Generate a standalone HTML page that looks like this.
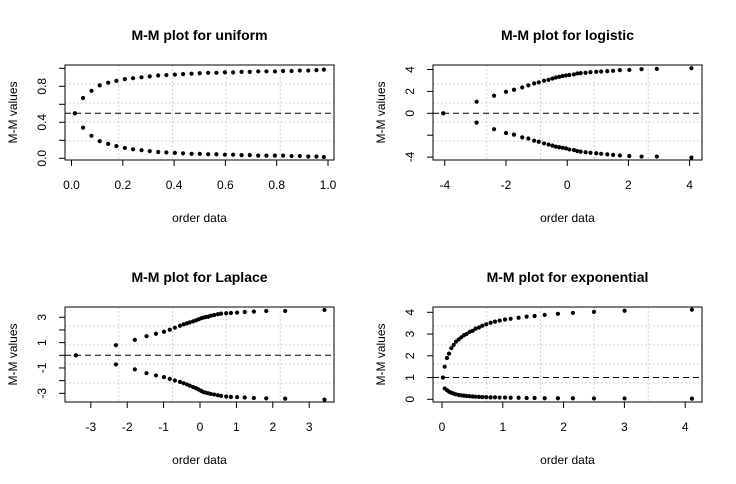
<!DOCTYPE html>
<html><head><meta charset="utf-8"><style>
body{margin:0;background:#fff}
svg{display:block;font-family:"Liberation Sans",Arial,sans-serif}
</style></head><body>
<svg id="c" width="736" height="484" viewBox="0 0 736 484"></svg>
<script>
// ---- data ----
const unifX=[0.013,0.045,0.078,0.11,0.143,0.175,0.208,0.24,0.273,0.305,0.338,0.37,0.403,0.435,0.468,0.5,0.533,0.565,0.598,0.63,0.663,0.695,0.728,0.76,0.793,0.825,0.858,0.89,0.923,0.955,0.984];
const unifUp=[0.5,0.67,0.75,0.81,0.84,0.86,0.88,0.89,0.90,0.91,0.92,0.925,0.93,0.935,0.94,0.945,0.95,0.95,0.955,0.955,0.96,0.96,0.965,0.965,0.965,0.97,0.97,0.975,0.975,0.98,0.985];
const unifLo=[0.5,0.34,0.25,0.19,0.16,0.135,0.115,0.10,0.09,0.08,0.07,0.065,0.06,0.055,0.05,0.05,0.045,0.045,0.04,0.04,0.035,0.035,0.03,0.03,0.03,0.03,0.025,0.025,0.02,0.02,0.015];
const logiX=[-4.05,-2.96,-2.39,-2.0,-1.74,-1.47,-1.27,-1.08,-0.93,-0.76,-0.61,-0.48,-0.37,-0.26,-0.15,-0.04,0.07,0.22,0.33,0.44,0.60,0.76,0.95,1.11,1.31,1.50,1.72,2.03,2.43,2.93,4.06];
const logiUp=[0,1.06,1.6,1.97,2.15,2.36,2.55,2.73,2.82,2.97,3.06,3.18,3.27,3.33,3.4,3.45,3.5,3.55,3.64,3.67,3.7,3.76,3.79,3.82,3.85,3.88,3.94,3.96,4.03,4.06,4.12];
const logiLo=[0,-0.85,-1.45,-1.8,-1.95,-2.2,-2.3,-2.5,-2.6,-2.75,-2.85,-2.95,-3.05,-3.1,-3.15,-3.2,-3.3,-3.35,-3.45,-3.5,-3.55,-3.6,-3.65,-3.7,-3.75,-3.8,-3.85,-3.9,-3.95,-3.95,-4.05];
const lapX=[-3.41,-2.31,-1.79,-1.47,-1.21,-0.99,-0.83,-0.69,-0.55,-0.45,-0.36,-0.28,-0.19,-0.11,-0.04,0.03,0.09,0.16,0.23,0.30,0.39,0.49,0.58,0.72,0.85,1.02,1.23,1.48,1.82,2.34,3.42];
const lapUp=[0,0.8,1.22,1.51,1.7,1.86,2.02,2.18,2.33,2.44,2.52,2.6,2.68,2.76,2.84,2.92,2.97,3.02,3.05,3.13,3.18,3.24,3.29,3.32,3.34,3.37,3.42,3.45,3.5,3.5,3.58];
const lapLo=[0,-0.72,-1.11,-1.41,-1.59,-1.72,-1.86,-1.99,-2.1,-2.2,-2.3,-2.4,-2.5,-2.6,-2.7,-2.8,-2.9,-2.95,-3.0,-3.05,-3.1,-3.15,-3.2,-3.25,-3.28,-3.3,-3.33,-3.37,-3.4,-3.42,-3.5];
const expX=[0.016,0.044,0.082,0.115,0.153,0.192,0.23,0.274,0.318,0.362,0.405,0.455,0.504,0.553,0.608,0.663,0.729,0.8,0.871,0.948,1.036,1.129,1.26,1.392,1.523,1.688,1.907,2.153,2.499,3.003,4.11];
const expUp=[1.0,1.5,1.9,2.1,2.35,2.5,2.65,2.75,2.85,2.95,3.0,3.1,3.15,3.25,3.3,3.38,3.45,3.52,3.57,3.62,3.67,3.7,3.75,3.8,3.83,3.88,3.93,3.97,4.02,4.07,4.12];
const expLo=[1.0,0.5,0.42,0.35,0.3,0.26,0.23,0.2,0.18,0.17,0.15,0.14,0.13,0.12,0.11,0.1,0.1,0.09,0.09,0.08,0.08,0.07,0.07,0.06,0.06,0.05,0.05,0.05,0.04,0.04,0.03];
const unifXTicks=[0,0.2,0.4,0.6,0.8,1.0], unifXLab=["0.0","0.2","0.4","0.6","0.8","1.0"];
const unifYTicks=[0,0.2,0.4,0.6,0.8,1.0], unifYLab=["0.0","","0.4","","0.8",""];
const logiXTicks=[-4,-2,0,2,4], logiXLab=["-4","-2","0","2","4"];
const logiYTicks=[-4,-2,0,2,4], logiYLab=["-4","","0","2","4"];
const lapXTicks=[-3,-2,-1,0,1,2,3], lapXLab=["-3","-2","-1","0","1","2","3"];
const lapYTicks=[-3,-2,-1,0,1,2,3], lapYLab=["-3","","-1","","1","","3"];
const expXTicks=[0,1,2,3,4], expXLab=["0","1","2","3","4"];
const expYTicks=[0,1,2,3,4], expYLab=["0","1","2","3","4"];

const NS="http://www.w3.org/2000/svg";
const svg=document.getElementById('c');
function mk(tag,attrs,parent,text){const e=document.createElementNS(NS,tag);for(const k in attrs)e.setAttribute(k,attrs[k]);if(text!==undefined)e.textContent=text;(parent||svg).appendChild(e);return e;}

function panel(o){
  const g=mk('g',{});
  
  
  const sx=v=>o.x0+(v-o.xa)*o.xs, sy=v=>o.y0-(v-o.ya)*o.ys;
  const L=o.box[0],T=o.box[1],R=o.box[2],B=o.box[3];
  for(let i=1;i<5;i++){
    const gx=L+(R-L)*i/5, gy=T+(B-T)*i/5;
    const a=mk('line',{x1:gx,y1:T,x2:gx,y2:B,stroke:'#d3d3d3','stroke-dasharray':'2,2'},g);
    
    
    const b=mk('line',{x1:L,y1:gy,x2:R,y2:gy,stroke:'#d3d3d3','stroke-dasharray':'2,2'},g);
    
    
  }
  const rl=mk('line',{x1:L,y1:sy(o.ref),x2:R,y2:sy(o.ref),stroke:'#000','stroke-dasharray':'6,4'},g);
  
  
  for(let i=0;i<o.xs_.length;i++){
    const p=mk('circle',{cx:sx(o.xs_[i]),cy:sy(o.up[i]),r:2.1,fill:'#000'},g);
    
    
    const q=mk('circle',{cx:sx(o.xs_[i]),cy:sy(o.lo[i]),r:2.1,fill:'#000'},g);
    
    
  }
  const bx=mk('rect',{x:L,y:T,width:R-L,height:B-T,fill:'none',stroke:'#000'},g);
  
  
  const xt=o.xt;
  mk('line',{x1:sx(xt[0]),y1:B,x2:sx(xt[xt.length-1]),y2:B,stroke:'#000'},g);
  xt.forEach((v,i)=>{
    mk('line',{x1:sx(v),y1:B,x2:sx(v),y2:B+6,stroke:'#000'},g);
    const t=mk('text',{x:sx(v),y:B+29,'font-size':12,'text-anchor':'middle'},g,o.xl[i]);
    
    
  });
  const yt=o.yt;
  yt.forEach((v,i)=>{
    mk('line',{x1:L,y1:sy(v),x2:L-6,y2:sy(v),stroke:'#000'},g);
    if(o.yl[i]){
      const t=mk('text',{x:0,y:0,'font-size':12,'text-anchor':'middle',transform:`translate(${L-19},${sy(v)}) rotate(-90)`},g,o.yl[i]);
      
      
    }
  });
  const tt=mk('text',{x:(L+R)/2,y:T-25,'font-size':14,'font-weight':'bold','text-anchor':'middle'},g,o.title);
  
  
  const xl=mk('text',{x:(L+R)/2,y:B+62,'font-size':12,'text-anchor':'middle'},g,'order data');
  
  
  const yl=mk('text',{x:0,y:0,'font-size':12,'text-anchor':'middle',transform:`translate(${L-48},${(T+B)/2}) rotate(-90)`},g,'M-M values');
  
  
}
panel({name:'uniform',title:'M-M plot for uniform',box:[65,65,334,160],x0:71.5,xa:0,xs:256.5,y0:158.3,ya:0,ys:90,ref:0.5,xs_:unifX,up:unifUp,lo:unifLo,xt:unifXTicks,xl:unifXLab,yt:unifYTicks,yl:unifYLab});
panel({name:'logistic',title:'M-M plot for logistic',box:[433,65,702,160],x0:567.2,xa:0,xs:30.6,y0:113.3,ya:0,ys:10.95,ref:0,xs_:logiX,up:logiUp,lo:logiLo,xt:logiXTicks,xl:logiXLab,yt:logiYTicks,yl:logiYLab});
panel({name:'laplace',title:'M-M plot for Laplace',box:[65,307,334,402],x0:200,xa:0,xs:36.4,y0:355.3,ya:0,ys:12.67,ref:0,xs_:lapX,up:lapUp,lo:lapLo,xt:lapXTicks,xl:lapXLab,yt:lapYTicks,yl:lapYLab});
panel({name:'exponential',title:'M-M plot for exponential',box:[433,307,702,402],x0:442,xa:0,xs:60.8,y0:399.3,ya:0,ys:21.75,ref:1,xs_:expX,up:expUp,lo:expLo,xt:expXTicks,xl:expXLab,yt:expYTicks,yl:expYLab});
</script>
</body></html>
